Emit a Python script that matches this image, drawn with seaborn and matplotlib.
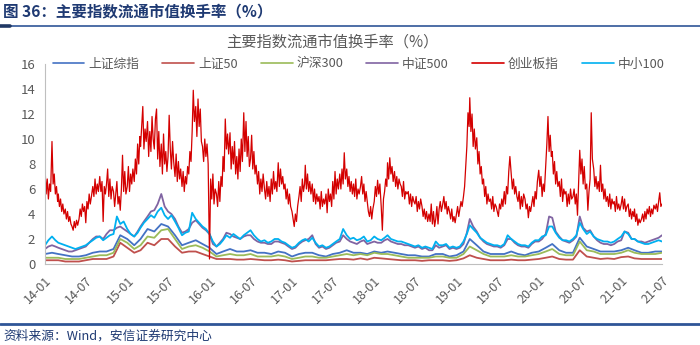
import matplotlib
matplotlib.use("Agg")
import matplotlib.pyplot as plt
from matplotlib.lines import Line2D
import seaborn as sns
import pandas as pd

sns.set_theme(style="white")
plt.rcParams["font.family"] = ["Noto Sans CJK SC", "DejaVu Sans"]
plt.rcParams["axes.unicode_minus"] = False

# ---- data -------------------------------------------------------------
names = ["上证综指", "上证50", "沪深300", "中证500", "创业板指", "中小100"]
colors = ["#4472C4", "#C0504D", "#9BBB59", "#8064A2", "#D40000", "#00B0F0"]

# 创业板指: six readings per month (days 1, 6, 11, 16, 21, 26), one row per quarter
cyb_2014 = [7.8, 5.6, 6.8, 5.2, 6.4, 5.8, 9.8, 6.4, 7.2, 5.6, 6.2, 5.0, 5.6, 4.6, 5.2, 4.2, 4.8, 4.0,
            4.4, 3.6, 4.2, 3.4, 3.8, 3.2, 3.0, 2.7, 3.4, 2.9, 3.5, 3.1, 3.6, 4.4, 3.8, 4.8, 4.2, 4.6,
            3.3, 5.0, 4.4, 5.6, 4.8, 5.4, 6.2, 5.4, 6.8, 5.6, 6.4, 5.8, 7.0, 5.8, 6.6, 3.4, 6.2, 5.6,
            6.4, 7.6, 5.4, 6.8, 5.2, 6.2, 5.8, 4.6, 5.6, 6.6, 4.8, 5.4, 4.3, 6.0, 8.7, 5.8, 7.4, 5.6]
cyb_2015 = [6.2, 7.8, 5.8, 7.2, 6.4, 7.6, 6.6, 8.4, 7.2, 9.6, 8.0, 10.2, 9.4, 11.0, 12.6, 9.2, 10.8, 9.8,
            11.4, 8.6, 10.6, 9.0, 11.8, 10.0, 9.2, 11.6, 12.4, 8.4, 10.6, 7.8, 9.6, 7.2, 10.4, 8.0, 9.0, 7.4,
            8.6, 11.9, 9.2, 7.6, 9.8, 8.2, 7.0, 8.8, 6.6, 8.2, 6.8, 7.6, 6.2, 7.4, 5.8, 7.0, 6.4, 7.8,
            7.2, 9.0, 8.2, 10.6, 13.9, 11.4, 12.6, 10.2, 13.2, 11.0, 12.4, 9.8, 9.4, 8.2, 10.0, 8.6, 9.6, 8.0]
cyb_2016 = [0.4, 6.8, 5.2, 7.2, 4.8, 6.0, 5.6, 4.6, 6.6, 5.0, 7.0, 6.2, 8.6, 7.4, 11.6, 9.2, 10.4, 8.8,
            10.5, 7.6, 9.4, 8.0, 9.8, 7.2, 8.6, 6.8, 9.2, 7.4, 10.0, 8.2, 12.1, 9.0, 11.4, 8.6, 10.2, 7.8,
            8.4, 10.3, 7.6, 9.0, 7.2, 7.9, 6.4, 7.4, 5.6, 6.8, 5.8, 7.2, 6.0, 5.2, 6.6, 5.4, 6.2, 5.0,
            6.8, 5.6, 7.4, 6.0, 6.6, 5.8, 8.1, 6.2, 7.6, 6.4, 7.0, 6.0, 6.4, 5.2, 6.0, 4.8, 5.6, 4.6]
cyb_2017 = [4.2, 3.6, 3.0, 4.0, 3.4, 4.6, 5.4, 6.2, 5.0, 6.8, 5.8, 6.4, 7.9, 6.0, 7.2, 5.8, 6.6, 5.6,
            6.4, 5.0, 6.0, 4.8, 5.6, 5.0, 5.4, 4.4, 5.8, 4.6, 5.2, 4.8, 5.6, 4.1, 6.0, 5.0, 5.6, 4.6,
            6.6, 5.2, 7.4, 5.6, 6.8, 6.0, 7.2, 6.0, 7.6, 6.4, 8.9, 6.8, 7.6, 6.2, 7.0, 5.8, 6.6, 5.6,
            6.4, 5.4, 6.8, 5.2, 6.0, 5.6, 6.2, 7.0, 5.6, 6.4, 5.0, 5.8, 5.0, 4.2, 3.8, 4.6, 3.6, 4.4]
cyb_2018 = [5.0, 6.2, 5.4, 6.7, 5.6, 6.4, 4.6, 2.7, 5.2, 5.8, 6.8, 6.2, 8.1, 6.8, 8.5, 7.2, 7.8, 6.6,
            7.4, 6.2, 7.0, 6.0, 6.8, 6.4, 6.2, 5.4, 6.6, 5.2, 5.8, 5.6, 5.8, 4.8, 5.6, 4.6, 5.4, 5.0,
            4.8, 5.4, 4.2, 5.0, 4.4, 5.2, 4.6, 3.8, 4.4, 3.6, 4.2, 3.4, 4.0, 3.4, 4.8, 3.2, 4.2, 3.0,
            3.6, 4.6, 3.2, 4.4, 5.0, 4.2, 4.8, 5.4, 4.4, 5.0, 4.0, 4.6, 4.2, 3.6, 4.4, 3.4, 3.8, 3.3]
cyb_2019 = [4.0, 4.6, 3.8, 4.4, 5.0, 4.6, 5.4, 6.2, 7.8, 9.4, 12.1, 11.0, 13.3, 10.6, 12.0, 9.4, 10.8, 9.2,
            10.1, 8.0, 9.0, 7.2, 7.8, 6.4, 6.8, 5.4, 6.2, 4.8, 5.6, 5.0, 5.2, 4.4, 5.4, 4.2, 4.8, 4.6,
            4.2, 3.8, 4.8, 4.4, 5.2, 4.6, 5.8, 4.8, 6.2, 5.6, 7.4, 8.6, 7.2, 6.0, 6.8, 5.6, 6.2, 5.4,
            5.0, 5.8, 4.4, 5.4, 4.6, 5.6, 5.2, 4.4, 4.8, 3.7, 4.6, 4.2, 4.8, 5.4, 4.6, 5.8, 5.2, 6.6]
cyb_2020 = [7.5, 6.2, 7.0, 5.4, 6.4, 5.8, 7.8, 9.6, 11.8, 9.0, 10.3, 8.6, 9.0, 7.2, 8.2, 6.4, 7.4, 6.2,
            6.6, 5.4, 6.8, 5.0, 6.0, 5.6, 5.8, 4.6, 5.6, 4.8, 6.0, 5.2, 5.4, 6.0, 4.8, 5.6, 3.9, 6.4,
            9.1, 7.2, 8.4, 6.4, 7.8, 6.0, 6.4, 4.3, 5.8, 6.8, 12.1, 8.4, 7.6, 6.2, 7.0, 6.0, 6.6, 5.8,
            7.9, 5.8, 6.4, 5.2, 6.0, 5.0, 5.4, 4.6, 5.6, 4.4, 5.2, 4.8, 5.0, 4.2, 5.4, 4.4, 4.8, 4.3]
cyb_2021 = [4.8, 5.4, 4.4, 5.2, 4.2, 4.6, 4.8, 3.8, 4.4, 3.6, 4.2, 3.8, 4.4, 3.4, 4.0, 3.1, 3.6, 3.3,
            3.6, 4.0, 3.4, 4.2, 3.6, 4.4, 4.0, 4.6, 3.8, 4.4, 4.0, 4.7, 4.4, 4.8, 4.2, 5.0, 5.7, 4.6,
            4.8]

# 中小100 and 中证500: two readings per month (1st and 16th)
zx100 = [1.5, 1.9, 2.2, 1.9, 1.7, 1.6, 1.5, 1.4, 1.3, 1.2, 1.3, 1.4, 1.5, 1.7, 1.9, 2.1, 2.2, 1.9, 2.1, 2.3, 2.4, 3.8, 3.2, 3.4,
         2.8, 2.4, 2.2, 2.5, 2.9, 3.3, 3.6, 3.9, 3.7, 4.2, 4.5, 3.9, 3.6, 3.9, 3.4, 2.9, 2.3, 2.5, 2.6, 4.1, 3.6, 3.3, 3.0, 2.8,
         2.4, 1.8, 1.4, 1.6, 1.9, 2.3, 2.1, 2.4, 2.2, 2.0, 2.3, 2.5, 2.7, 2.3, 2.0, 1.8, 1.9, 1.7, 1.8, 2.0, 2.0, 1.8, 1.7, 1.5,
         1.3, 1.4, 1.7, 1.9, 2.0, 1.8, 2.1, 1.7, 1.4, 1.5, 1.3, 1.4, 1.6, 1.8, 2.0, 2.8, 2.3, 2.0, 2.1, 1.9, 2.0, 2.2, 1.8, 1.9,
         2.2, 2.0, 1.9, 2.1, 2.3, 2.0, 1.9, 1.8, 1.8, 1.7, 1.6, 1.5, 1.4, 1.5, 1.3, 1.4, 1.3, 1.2, 1.8, 1.5, 1.5, 1.6, 1.3, 1.4,
         1.3, 1.4, 1.8, 2.4, 3.1, 2.8, 2.5, 2.1, 1.9, 1.7, 1.6, 1.5, 1.5, 1.4, 1.6, 2.3, 2.0, 1.8, 1.6, 1.5, 1.5, 1.4, 1.7, 1.9,
         1.9, 2.2, 2.3, 3.0, 3.0, 2.5, 2.1, 1.9, 1.9, 1.8, 2.0, 2.3, 3.3, 2.8, 2.4, 2.6, 2.2, 2.0, 1.9, 1.8, 1.8, 1.7, 1.8, 2.0,
         2.2, 2.6, 2.4, 2.0, 2.0, 1.8, 1.7, 1.6, 1.6, 1.7, 1.8, 1.9, 1.8]
zz500 = [1.2, 1.4, 1.5, 1.4, 1.3, 1.2, 1.1, 1.0, 1.0, 1.1, 1.2, 1.3, 1.4, 1.7, 2.0, 2.2, 2.2, 2.0, 2.4, 2.7, 2.7, 2.9, 3.0, 2.8,
         2.6, 2.4, 2.2, 2.6, 3.0, 3.4, 3.8, 4.2, 4.3, 4.8, 5.6, 4.6, 4.2, 4.0, 3.6, 3.0, 2.5, 2.6, 2.8, 3.3, 3.5, 3.2, 2.9, 2.7,
         2.4, 1.6, 1.4, 1.7, 2.0, 2.5, 2.4, 2.2, 2.1, 2.0, 2.2, 2.3, 2.3, 2.0, 1.8, 1.7, 1.7, 1.6, 1.6, 1.8, 1.8, 1.7, 1.6, 1.4,
         1.2, 1.3, 1.6, 1.8, 1.9, 2.0, 2.3, 1.6, 1.3, 1.4, 1.2, 1.3, 1.5, 1.7, 1.8, 2.3, 2.0, 1.8, 1.7, 1.6, 1.8, 1.9, 1.6, 1.7,
         1.8, 1.7, 1.7, 1.9, 2.0, 1.8, 1.7, 1.6, 1.6, 1.5, 1.5, 1.4, 1.3, 1.4, 1.2, 1.3, 1.1, 1.1, 1.5, 1.3, 1.4, 1.5, 1.2, 1.3,
         1.2, 1.3, 1.6, 2.5, 3.6, 3.0, 2.6, 2.1, 1.8, 1.6, 1.5, 1.4, 1.4, 1.3, 1.5, 2.0, 2.0, 1.7, 1.5, 1.4, 1.4, 1.3, 1.6, 1.8,
         1.8, 2.0, 2.4, 3.8, 3.7, 2.6, 2.2, 1.9, 1.8, 1.7, 1.9, 2.2, 3.8, 2.9, 2.6, 2.7, 2.2, 1.9, 1.7, 1.6, 1.6, 1.5, 1.6, 1.8,
         1.9, 2.6, 2.5, 2.0, 2.0, 1.8, 1.8, 1.7, 1.8, 1.9, 2.0, 2.1, 2.3]

# 上证综指, 沪深300, 上证50: one reading per month (2014-01 .. 2021-07)
szzz = [0.8, 0.9, 0.8, 0.7, 0.6, 0.6, 0.7, 0.9, 1.0, 1.0, 1.2, 2.3,
        2.0, 1.5, 2.0, 2.8, 2.6, 3.2, 3.0, 2.3, 1.5, 1.7, 1.9, 1.6,
        1.3, 0.8, 1.0, 1.2, 1.0, 1.0, 1.1, 0.9, 0.9, 0.8, 1.0, 0.9,
        0.6, 0.8, 0.9, 0.9, 0.7, 0.6, 0.8, 0.9, 1.1, 0.9, 0.9, 0.8,
        1.0, 0.9, 1.0, 0.9, 0.8, 0.7, 0.7, 0.6, 0.6, 0.8, 0.8, 0.6,
        0.7, 1.0, 2.0, 1.5, 1.0, 0.8, 0.8, 0.8, 1.0, 0.8, 0.7, 0.9,
        1.0, 1.3, 1.6, 1.1, 0.9, 0.9, 2.1, 1.4, 1.2, 1.0, 1.0, 1.0,
        1.1, 1.3, 1.1, 0.9, 0.9, 1.0, 1.0]
hs300 = [0.5, 0.5, 0.5, 0.4, 0.4, 0.4, 0.5, 0.6, 0.7, 0.7, 0.9, 2.0,
         1.7, 1.2, 1.5, 2.2, 2.1, 2.7, 2.8, 2.0, 1.2, 1.4, 1.5, 1.3,
         1.0, 0.6, 0.7, 0.8, 0.7, 0.7, 0.8, 0.6, 0.6, 0.6, 0.7, 0.6,
         0.4, 0.5, 0.6, 0.6, 0.5, 0.5, 0.6, 0.7, 0.8, 0.7, 0.8, 0.7,
         0.9, 0.8, 0.8, 0.7, 0.6, 0.5, 0.5, 0.5, 0.5, 0.6, 0.6, 0.5,
         0.5, 0.8, 1.4, 1.1, 0.8, 0.6, 0.6, 0.6, 0.7, 0.6, 0.6, 0.7,
         0.8, 1.0, 1.2, 0.8, 0.7, 0.7, 1.8, 1.1, 1.0, 0.8, 0.8, 0.8,
         0.9, 1.1, 0.9, 0.8, 0.8, 0.8, 0.9]
sz50 = [0.3, 0.3, 0.3, 0.2, 0.2, 0.2, 0.3, 0.4, 0.4, 0.4, 0.6, 1.7,
        1.3, 0.9, 1.1, 1.7, 1.5, 2.0, 2.0, 1.4, 0.9, 1.0, 1.0, 0.8,
        0.6, 0.4, 0.4, 0.4, 0.35, 0.35, 0.4, 0.35, 0.3, 0.3, 0.35, 0.3,
        0.2, 0.25, 0.3, 0.3, 0.3, 0.3, 0.35, 0.4, 0.4, 0.35, 0.45, 0.35,
        0.5, 0.45, 0.4, 0.35, 0.3, 0.3, 0.3, 0.25, 0.3, 0.3, 0.3, 0.25,
        0.3, 0.45, 0.7, 0.5, 0.4, 0.3, 0.3, 0.3, 0.35, 0.3, 0.3, 0.35,
        0.4, 0.5, 0.6, 0.4, 0.35, 0.35, 1.1, 0.6, 0.5, 0.4, 0.45, 0.4,
        0.55, 0.6, 0.45, 0.4, 0.4, 0.4, 0.4]

# ---- date grids and long-form table -------------------------------------
months = pd.period_range("2014-01", "2021-06", freq="M")
end = pd.Timestamp("2021-07-01")
grid6 = [p.to_timestamp() + pd.Timedelta(days=d) for p in months for d in (0, 5, 10, 15, 20, 25)] + [end]
grid2 = [p.to_timestamp() + pd.Timedelta(days=d) for p in months for d in (0, 15)] + [end]
grid1 = list(pd.date_range("2014-01-01", end, freq="MS"))

cyb = cyb_2014 + cyb_2015 + cyb_2016 + cyb_2017 + cyb_2018 + cyb_2019 + cyb_2020 + cyb_2021
series = {"上证综指": (grid1, szzz), "上证50": (grid1, sz50), "沪深300": (grid1, hs300),
          "中证500": (grid2, zz500), "创业板指": (grid6, cyb), "中小100": (grid2, zx100)}
df = pd.concat([pd.DataFrame({"date": d, "value": v, "name": n}) for n, (d, v) in series.items()],
               ignore_index=True)

# ---- figure ---------------------------------------------------------------
fig = plt.figure(figsize=(7, 3.45), dpi=100)
ax = fig.add_axes([45 / 700, 1 - 264 / 345, (662 - 45) / 700, 200 / 345])

palette = dict(zip(names, colors))
sns.lineplot(data=df[df["name"] != "创业板指"], x="date", y="value", hue="name",
             hue_order=[n for n in names if n != "创业板指"], palette=palette,
             linewidth=1.3, estimator=None, legend=False, ax=ax)
sns.lineplot(data=df[df["name"] == "创业板指"], x="date", y="value", color=palette["创业板指"],
             linewidth=0.9, estimator=None, legend=False, ax=ax)

ax.set_xlim(pd.Timestamp("2014-01-01"), end)
ax.set_ylim(0, 16)
ax.set_yticks(range(0, 17, 2))
ticks = pd.date_range("2014-01-01", end, freq="6MS")
ax.set_xticks(ticks)
ax.set_xticklabels([t.strftime("%y-%m") for t in ticks], rotation=45,
                   ha="right", va="top", rotation_mode="anchor")
ax.set_xlabel("")
ax.set_ylabel("")

for side in ("top", "right"):
    ax.spines[side].set_visible(False)
for side in ("left", "bottom"):
    ax.spines[side].set_color("#BFBFBF")
    ax.spines[side].set_linewidth(0.8)
ax.tick_params(axis="both", which="major", direction="out", length=4, width=0.8,
               color="#BFBFBF", labelcolor="#595959", labelsize=9, pad=3)
ax.tick_params(axis="y", labelsize=9.5)

handles = [Line2D([], [], color=c, linewidth=1.2) for c in colors]
ax.legend(handles, names, loc="center", bbox_to_anchor=(0.508, 1.0), ncol=6,
          frameon=False, fontsize=9.2, handlelength=2.5, handletextpad=0.3,
          columnspacing=1.8, labelcolor="#595959", borderaxespad=0)

# chart title
fig.text(0.475, 1 - 42 / 345, "主要指数流通市值换手率（%）", ha="center", va="center",
         fontsize=11, color="#595959")

# report header and footer
fig.text(3 / 700, 1 - 12 / 345, "图 36：主要指数流通市值换手率（%）", ha="left", va="center",
         fontsize=11.2, fontweight="bold", color="#1F3A73")
fig.add_artist(Line2D([0, 1], [1 - 26 / 345] * 2, color="#2F5597", linewidth=1.2,
                      transform=fig.transFigure))
fig.add_artist(Line2D([0, 10 / 700], [1 - 26 / 345] * 2, color="#1F3864", linewidth=2.6,
                      transform=fig.transFigure))
fig.add_artist(Line2D([0, 1], [1 - 324 / 345] * 2, color="#2F5597", linewidth=2.0,
                      transform=fig.transFigure))
fig.text(3 / 700, 1 - 336 / 345, "资料来源：Wind，安信证券研究中心", ha="left", va="center",
         fontsize=9.2, style="italic", color="#1F3A73")

fig.savefig("out.png", dpi=100)
